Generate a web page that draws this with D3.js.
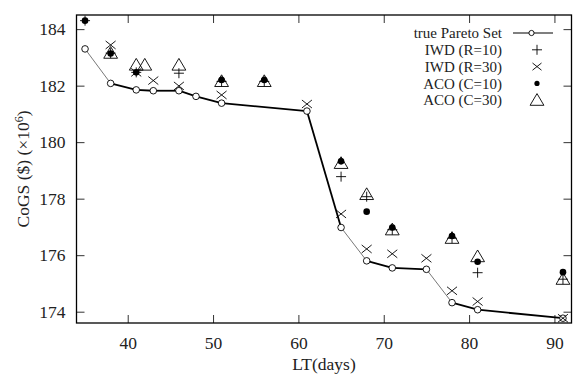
<!DOCTYPE html>
<html><head><meta charset="utf-8">
<script src="https://cdn.jsdelivr.net/npm/d3@7"></script>
<style>body{margin:0;background:#fff;} svg{display:block;}</style>
</head><body>
<script>
// ---- data ----
const paretoLT   = [35, 38, 41, 43, 46, 48, 51, 61, 65, 68, 71, 75, 78, 81, 91];
const paretoCoGS = [183.3, 182.08, 181.85, 181.82, 181.82, 181.62, 181.38, 181.1, 176.98, 175.8, 175.55, 175.5, 174.32, 174.07, 173.77];
const paretoThinSegments = [0, 8, 11]; // segment index drawn with thin stroke
const iwd10LT   = [35, 38, 41, 46, 51, 56, 65, 68, 71, 78, 81, 91];
const iwd10CoGS = [184.3, 183.15, 182.47, 182.44, 182.15, 182.15, 178.78, 178.07, 176.9, 176.6, 175.38, 175.15];
const iwd30LT   = [38, 41, 43, 46, 51, 61, 65, 68, 71, 75, 78, 81, 91];
const iwd30CoGS = [183.44, 182.47, 182.18, 181.99, 181.67, 181.35, 177.46, 176.22, 176.05, 175.89, 174.74, 174.36, 173.77];
const aco10LT   = [35, 38, 41, 51, 56, 65, 68, 71, 78, 81, 91];
const aco10CoGS = [184.3, 183.14, 182.47, 182.2, 182.2, 179.32, 177.54, 176.98, 176.68, 175.77, 175.4];
const aco30LT   = [38, 41, 42, 46, 51, 56, 65, 68, 71, 78, 81, 91];
const aco30CoGS = [183.15, 182.73, 182.73, 182.73, 182.15, 182.15, 179.25, 178.15, 176.9, 176.6, 175.95, 175.15];
const xTicks = [40, 50, 60, 70, 80, 90];
const yTicks = [174, 176, 178, 180, 182, 184];
const legendLabels = ["true Pareto Set", "IWD (R=10)", "IWD (R=30)", "ACO (C=10)", "ACO (C=30)"];

const W = 587, H = 380;
const m = {left: 76.5, right: 571.5, top: 15, bottom: 323};
const font = "'Liberation Serif', 'Times New Roman', serif";

const svg = d3.select("body").append("svg").attr("width", W).attr("height", H);

const x = d3.scaleLinear().domain([34, 92]).range([m.left, m.right]);
const y = d3.scaleLinear().domain([173.6, 184.5]).range([m.bottom, m.top]);

const tickLen = 8;
const g = svg.append("g");

// axes (ticks inward, mirrored)
const axB = d3.axisBottom(x).tickValues(xTicks).tickSize(-tickLen).tickPadding(14).tickFormat(d3.format("d"));
const axT = d3.axisTop(x).tickValues(xTicks).tickSize(-tickLen).tickFormat("");
const axL = d3.axisLeft(y).tickValues(yTicks).tickSize(-tickLen).tickPadding(11).tickFormat(d3.format("d"));
const axR = d3.axisRight(y).tickValues(yTicks).tickSize(-tickLen).tickFormat("");
function styleAxis(sel){
  sel.select(".domain").remove();
  sel.selectAll(".tick line").attr("stroke", "#333").attr("stroke-width", 1);
  sel.selectAll(".tick text").attr("font-family", font).attr("font-size", 17.5).attr("fill", "#222");
}
g.append("g").attr("transform", `translate(0,${m.bottom})`).call(axB).call(styleAxis);
g.append("g").attr("transform", `translate(0,${m.top})`).call(axT).call(styleAxis);
g.append("g").attr("transform", `translate(${m.left},0)`).call(axL).call(styleAxis);
g.append("g").attr("transform", `translate(${m.right},0)`).call(axR).call(styleAxis);
g.append("rect").attr("x", m.left).attr("y", m.top).attr("width", m.right - m.left).attr("height", m.bottom - m.top)
  .attr("fill", "none").attr("stroke", "#000").attr("stroke-width", 1.3);

// axis labels
svg.append("text").attr("x", (m.left + m.right) / 2).attr("y", 370).attr("text-anchor", "middle")
  .attr("font-family", font).attr("font-size", 17.5).attr("fill", "#222").text("LT(days)");
const yl = svg.append("text").attr("transform", `translate(29,${(m.top + m.bottom) / 2}) rotate(-90)`)
  .attr("text-anchor", "middle").attr("font-family", font).attr("font-size", 17.5).attr("fill", "#222");
yl.append("tspan").text("CoGS ($) (×10");
yl.append("tspan").attr("dy", -6).attr("font-size", 12).text("6");
yl.append("tspan").attr("dy", 6).text(")");

// markers
function plus(s, px, py, r){ s.append("path").attr("d", `M${px-r},${py}H${px+r}M${px},${py-r}V${py+r}`).attr("stroke", "#000").attr("stroke-width", 0.9).attr("fill", "none"); }
function cross(s, px, py, r){ s.append("path").attr("d", `M${px-r},${py-r*0.8}L${px+r},${py+r*0.8}M${px-r},${py+r*0.8}L${px+r},${py-r*0.8}`).attr("stroke", "#000").attr("stroke-width", 0.9).attr("fill", "none"); }
function dot(s, px, py, r){ s.append("circle").attr("cx", px).attr("cy", py).attr("r", r).attr("fill", "#000"); }
function tri(s, px, py, r){ s.append("path").attr("d", `M${px},${py-r*1.1}L${px+r*1.15},${py+r*0.85}L${px-r*1.15},${py+r*0.85}Z`).attr("stroke", "#000").attr("stroke-width", 0.9).attr("fill", "none"); }
function circ(s, px, py, r){ s.append("circle").attr("cx", px).attr("cy", py).attr("r", r).attr("fill", "#fff").attr("stroke", "#000").attr("stroke-width", 0.9); }

const plot = svg.append("g");
// pareto line
for (let i = 0; i < paretoLT.length - 1; i++) {
  const thin = paretoThinSegments.includes(i);
  plot.append("line")
    .attr("x1", x(paretoLT[i])).attr("y1", y(paretoCoGS[i]))
    .attr("x2", x(paretoLT[i + 1])).attr("y2", y(paretoCoGS[i + 1]))
    .attr("stroke", thin ? "#555" : "#000").attr("stroke-width", thin ? 0.8 : 1.8);
}
paretoLT.forEach((d, i) => circ(plot, x(d), y(paretoCoGS[i]), 3.3));
aco30LT.forEach((d, i) => tri(plot, x(d), y(aco30CoGS[i]), 6));
iwd10LT.forEach((d, i) => plus(plot, x(d), y(iwd10CoGS[i]), 5));
iwd30LT.forEach((d, i) => cross(plot, x(d), y(iwd30CoGS[i]), 5));
aco10LT.forEach((d, i) => dot(plot, x(d), y(aco10CoGS[i]), 3.3));

// legend
const lg = svg.append("g");
const lgX = 502, lgY0 = 33, lgDy = 16.8, symX = 537;
legendLabels.forEach((t, i) => {
  lg.append("text").attr("x", lgX).attr("y", lgY0 + i * lgDy).attr("dy", "0.35em").attr("text-anchor", "end")
    .attr("font-family", font).attr("font-size", 15).attr("fill", "#222").text(t);
});
lg.append("line").attr("x1", 513).attr("x2", 553).attr("y1", lgY0).attr("y2", lgY0).attr("stroke", "#000").attr("stroke-width", 1.2);
circ(lg, 531.5, lgY0, 2.6);
plus(lg, symX, lgY0 + lgDy, 5);
cross(lg, symX, lgY0 + 2 * lgDy, 4.5);
dot(lg, symX, lgY0 + 3 * lgDy, 2.6);
tri(lg, symX, lgY0 + 4 * lgDy, 6);
</script>
</body></html>
